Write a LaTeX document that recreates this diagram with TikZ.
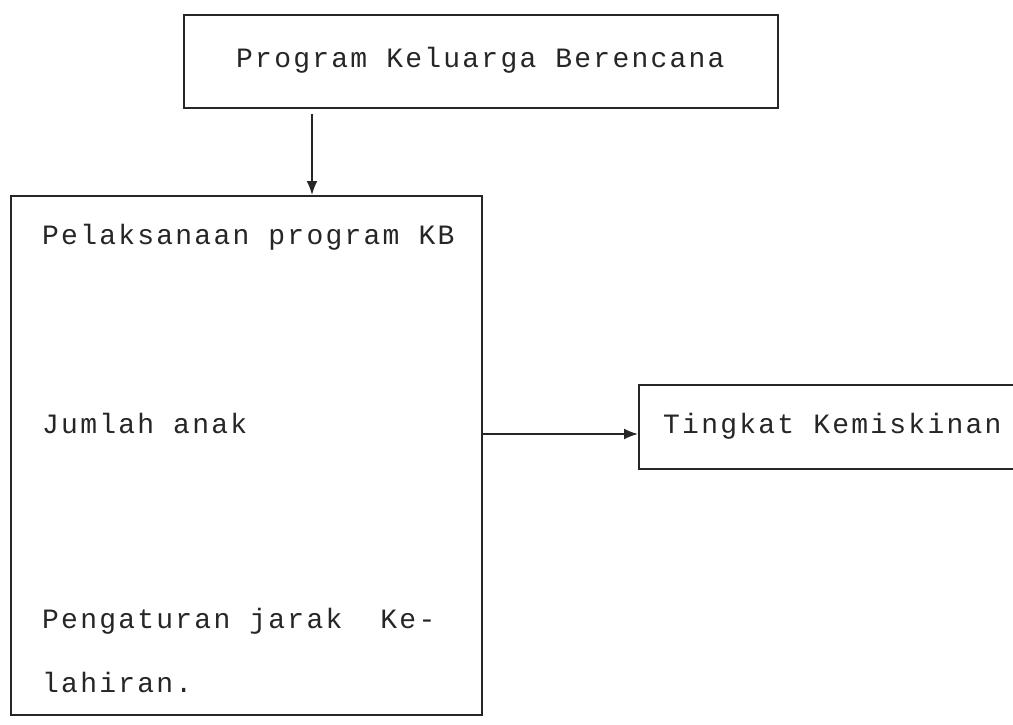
\documentclass[tikz,border=0pt]{standalone}
\usepackage{fontspec}
\newfontfamily\tw[LetterSpace=8]{Liberation Mono}
\usetikzlibrary{arrows.meta}
\tikzset{
  boxline/.style={draw=black!85, line width=1.8pt},
  lbl/.style={anchor=base west, inner sep=0pt, font=\tw\fontsize{28}{32}\selectfont, text=black!85},
  arr/.style={draw=black!85, line width=1.8pt, -{Latex[length=14pt,width=11pt]}}
}
\begin{document}
\begin{tikzpicture}[x=1pt,y=-1pt]
\useasboundingbox (0,0) rectangle (1013,724);
\fill[white] (0,0) rectangle (1013,724);
% boxes
\node[boxline, anchor=north west, minimum width=594pt, minimum height=93pt, inner sep=0pt] (top) at (183,14) {};
\node[boxline, anchor=north west, minimum width=471pt, minimum height=519pt, inner sep=0pt] (big) at (10,195) {};
\node[boxline, anchor=north west, minimum width=420pt, minimum height=84pt, inner sep=0pt] (rbox) at (638,384) {};
% texts
\node[lbl] (t1) at (236,67) {Program Keluarga Berencana};
\node[lbl] (t2) at (42,244) {Pelaksanaan program KB};
\node[lbl] (t3) at (42,433) {Jumlah anak};
\node[lbl] (t4) at (42,628) {Pengaturan jarak\ \ Ke-};
\node[lbl] (t5) at (42,692) {lahiran.};
\node[lbl] (t6) at (663,433) {Tingkat Kemiskinan};
% connectors
\coordinate (ax) at (312,0);
\coordinate (ay) at (0,434);
\draw[arr] ([yshift=-5pt]top.south -| ax) -- (big.north -| ax);
\draw[arr] (big.east |- ay) -- (rbox.west |- ay);
\end{tikzpicture}
\end{document}
